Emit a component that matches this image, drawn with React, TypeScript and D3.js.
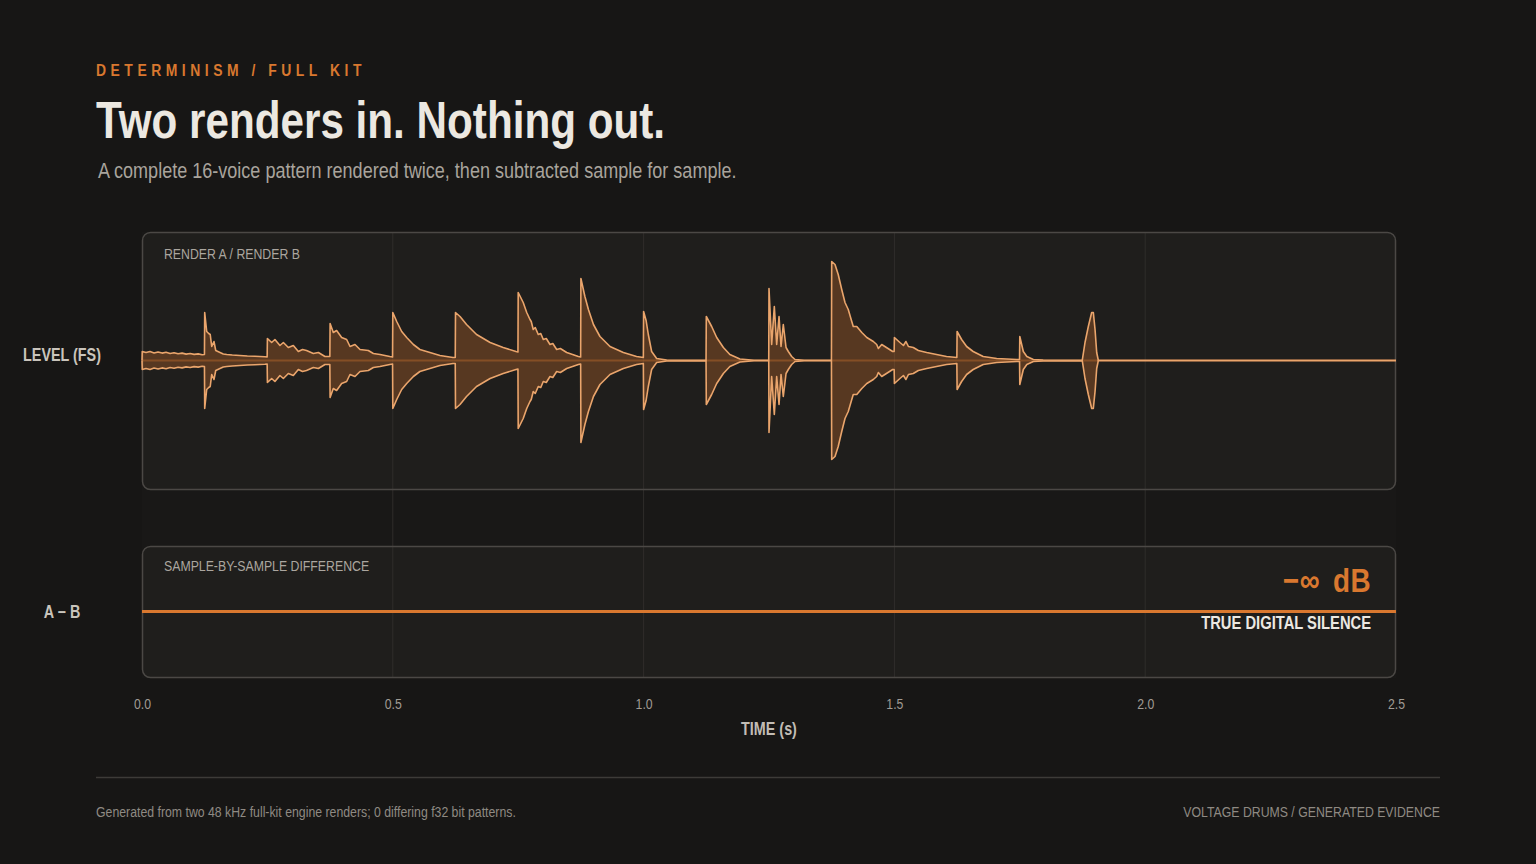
import React, { useEffect, useRef } from 'react';
import * as d3 from 'd3';

const WIDTH = 1536;
const HEIGHT = 864;

// Render A envelope (render B is bit-identical), [time in s, level in FS]
const renderEnvelope: [number, number][] = [
  [0.0, 0], [0.0005, 0.09], [0.008, 0.08], [0.016, 0.09], [0.024, 0.075], [0.032, 0.085],
  [0.04, 0.074], [0.048, 0.082], [0.056, 0.07], [0.064, 0.078], [0.072, 0.067], [0.08, 0.074],
  [0.088, 0.064], [0.096, 0.07], [0.104, 0.061], [0.112, 0.066], [0.12, 0.058], [0.1245, 0.06],
  // voice 2
  [0.125, 0.48], [0.129, 0.29], [0.133, 0.27], [0.136, 0.26], [0.139, 0.14], [0.1435, 0.19],
  [0.147, 0.1], [0.1555, 0.08], [0.162, 0.065], [0.169, 0.06], [0.18, 0.055], [0.195, 0.05],
  [0.21, 0.045], [0.225, 0.042], [0.245, 0.037], [0.2495, 0.035],
  // voice 3
  [0.25, 0.22], [0.2585, 0.18], [0.265, 0.21], [0.275, 0.15], [0.2818, 0.18], [0.2917, 0.13],
  [0.3017, 0.15], [0.3117, 0.09], [0.32, 0.11], [0.328, 0.1], [0.3416, 0.07], [0.3516, 0.08],
  [0.3648, 0.04], [0.3745, 0.04],
  // voice 4
  [0.375, 0.37], [0.3814, 0.28], [0.388, 0.3], [0.398, 0.23], [0.408, 0.21], [0.4147, 0.14],
  [0.4246, 0.16], [0.4346, 0.11], [0.4512, 0.1], [0.4612, 0.07], [0.4745, 0.06], [0.494, 0.04],
  [0.4995, 0.035],
  // voice 5
  [0.5, 0.48], [0.5078, 0.39], [0.5177, 0.29], [0.5277, 0.23], [0.541, 0.16], [0.554, 0.11],
  [0.574, 0.08], [0.594, 0.05], [0.62, 0.03], [0.6245, 0.03],
  // voice 6
  [0.625, 0.48], [0.634, 0.44], [0.647, 0.36], [0.667, 0.26], [0.694, 0.18], [0.72, 0.13],
  [0.7456, 0.09], [0.7495, 0.085],
  // voice 7
  [0.75, 0.68], [0.76, 0.58], [0.767, 0.48], [0.7735, 0.41], [0.776, 0.39], [0.78, 0.31],
  [0.784, 0.33], [0.79, 0.26], [0.795, 0.27], [0.8, 0.21], [0.806, 0.22], [0.8134, 0.16],
  [0.819, 0.17], [0.8267, 0.11], [0.834, 0.12], [0.8467, 0.08], [0.87, 0.04], [0.8745, 0.035],
  // voice 8
  [0.875, 0.82], [0.883, 0.64], [0.89, 0.51], [0.9, 0.36], [0.913, 0.24], [0.933, 0.14],
  [0.9596, 0.08], [0.986, 0.04], [0.9995, 0.03],
  // voice 9
  [1.0, 0.49], [1.005, 0.4], [1.0094, 0.26], [1.016, 0.09], [1.026, 0.02], [1.046, 0.005],
  [1.1245, 0.003],
  // voice 10
  [1.125, 0.44], [1.1357, 0.34], [1.1457, 0.23], [1.159, 0.13], [1.172, 0.06], [1.192, 0.015],
  [1.22, 0.003], [1.2495, 0.002],
  // voice 11 (clap)
  [1.25, 0.72], [1.2553, 0.16], [1.2606, 0.54], [1.2653, 0.16], [1.27, 0.44], [1.274, 0.14],
  [1.2785, 0.36], [1.284, 0.13], [1.2885, 0.09], [1.2952, 0.04], [1.3018, 0.01], [1.32, 0.003],
  [1.3745, 0.002],
  // voice 12
  [1.375, 0.99], [1.3816, 0.96], [1.388, 0.86], [1.395, 0.71], [1.4015, 0.58], [1.408, 0.51],
  [1.415, 0.39], [1.418, 0.34], [1.425, 0.34], [1.435, 0.28], [1.445, 0.23], [1.458, 0.19],
  [1.4647, 0.16], [1.468, 0.12], [1.4747, 0.16], [1.4966, 0.09], [1.4995, 0.09],
  // voice 13
  [1.5, 0.23], [1.511, 0.18], [1.518, 0.15], [1.523, 0.19], [1.528, 0.14], [1.5377, 0.13],
  [1.5477, 0.1], [1.5644, 0.08], [1.584, 0.06], [1.604, 0.04], [1.6245, 0.03],
  // voice 14
  [1.625, 0.29], [1.634, 0.21], [1.644, 0.14], [1.657, 0.09], [1.677, 0.04], [1.704, 0.02],
  [1.744, 0.01], [1.7495, 0.01],
  // voice 15
  [1.75, 0.24], [1.757, 0.09], [1.764, 0.04], [1.777, 0.01], [1.7966, 0.005], [1.8746, 0.003],
  // voice 16 (swell)
  [1.88, 0.18], [1.8866, 0.34], [1.8933, 0.48], [1.8966, 0.48], [1.9, 0.31], [1.9033, 0.08],
  [1.9066, 0], [2.5, 0],
];

// A - B, every sample is zero
const differenceSamples: [number, number][] = [[0, 0], [2.5, 0]];

const timeTicks = [0, 0.5, 1.0, 1.5, 2.0, 2.5];
const gridTicks = [0.5, 1.0, 1.5, 2.0];

const kicker = 'DETERMINISM / FULL KIT';
const title = 'Two renders in. Nothing out.';
const subtitle = 'A complete 16-voice pattern rendered twice, then subtracted sample for sample.';
const footLeft = 'Generated from two 48 kHz full-kit engine renders; 0 differing f32 bit patterns.';
const footRight = 'VOLTAGE DRUMS / GENERATED EVIDENCE';

// Arial-style sans squeezed horizontally to stand in for a narrow face
const SANS = '"Liberation Sans", Arial, sans-serif';
const SQUEEZE = 0.82;
const ORANGE = '#d9782f';

export default function App() {
  const svgRef = useRef<SVGSVGElement>(null);

  useEffect(() => {
    if (!svgRef.current) return;
    const svg = d3.select(svgRef.current);
    svg.selectAll('*').remove();

    svg.append('rect').attr('width', WIDTH).attr('height', HEIGHT).attr('fill', '#171615');

    const plot = { left: 142, right: 1396 };
    const topPanel = { y0: 232, y1: 490 };
    const diffPanel = { y0: 546, y1: 678 };

    const x = d3.scaleLinear().domain([0, 2.5]).range([plot.left, plot.right]);
    const yLevel = d3.scaleLinear().domain([-1.285, 1.285]).range([topPanel.y1 - 1, topPanel.y0]);
    const yDiff = d3.scaleLinear().domain([-1, 1]).range([diffPanel.y1 - 1, diffPanel.y0]);

    // plot backdrop
    svg.append('rect')
      .attr('x', plot.left).attr('y', topPanel.y0)
      .attr('width', plot.right - plot.left).attr('height', diffPanel.y1 - topPanel.y0)
      .attr('fill', '#191817');

    // panels
    [topPanel, diffPanel].forEach(p => {
      svg.append('rect')
        .attr('x', plot.left + 0.5).attr('y', p.y0 + 0.5)
        .attr('width', plot.right - plot.left - 1).attr('height', p.y1 - p.y0 - 1)
        .attr('rx', 8)
        .attr('fill', '#1f1e1c');
    });

    svg.append('g')
      .selectAll('line')
      .data(gridTicks)
      .join('line')
      .attr('x1', d => x(d)).attr('x2', d => x(d))
      .attr('y1', topPanel.y0).attr('y2', diffPanel.y1)
      .attr('stroke', '#2f2d2b')
      .attr('stroke-width', 1);

    [topPanel, diffPanel].forEach(p => {
      svg.append('rect')
        .attr('x', plot.left + 0.5).attr('y', p.y0 + 0.5)
        .attr('width', plot.right - plot.left - 1).attr('height', p.y1 - p.y0 - 1)
        .attr('rx', 8)
        .attr('fill', 'none')
        .attr('stroke', '#4b4845')
        .attr('stroke-width', 1.5);
    });

    // waveform
    const area = d3.area<[number, number]>()
      .x(d => x(d[0]))
      .y0(d => yLevel(-d[1]))
      .y1(d => yLevel(d[1]));
    const upper = d3.line<[number, number]>().x(d => x(d[0])).y(d => yLevel(d[1]));
    const lower = d3.line<[number, number]>().x(d => x(d[0])).y(d => yLevel(-d[1]));

    svg.append('path')
      .datum(renderEnvelope)
      .attr('d', area)
      .attr('fill', ORANGE)
      .attr('fill-opacity', 0.3);

    svg.append('line')
      .attr('x1', x(0)).attr('x2', x(2.5))
      .attr('y1', yLevel(0)).attr('y2', yLevel(0))
      .attr('stroke', ORANGE)
      .attr('stroke-opacity', 0.35)
      .attr('stroke-width', 2);

    [upper, lower].forEach(gen => {
      svg.append('path')
        .datum(renderEnvelope)
        .attr('d', gen)
        .attr('fill', 'none')
        .attr('stroke', '#eaa56c')
        .attr('stroke-width', 1.6)
        .attr('stroke-linejoin', 'round');
    });

    // difference
    svg.append('path')
      .datum(differenceSamples)
      .attr('d', d3.line<[number, number]>().x(d => x(d[0])).y(d => yDiff(d[1])))
      .attr('stroke', ORANGE)
      .attr('stroke-width', 3)
      .attr('fill', 'none');

    const text = (s: string, tx: number, ty: number, size: number, color: string, opts: any = {}) =>
      svg.append('text')
        .attr('transform', `translate(${tx},${ty}) scale(${SQUEEZE},1)`)
        .attr('font-family', SANS)
        .attr('font-size', size)
        .attr('font-weight', opts.weight || 'normal')
        .attr('text-anchor', opts.anchor || 'start')
        .attr('letter-spacing', opts.spacing || 0)
        .attr('word-spacing', opts.wordSpacing || 0)
        .attr('fill', color)
        .text(s);

    // x axis
    const axis = svg.append('g')
      .attr('transform', `translate(0,${diffPanel.y1})`)
      .call(d3.axisBottom(x).tickValues(timeTicks).tickFormat(d3.format('.1f')).tickSize(0).tickPadding(20));
    axis.select('.domain').remove();
    axis.selectAll('text')
      .attr('fill', '#a09b94')
      .attr('font-family', SANS)
      .attr('font-size', 15)
      .attr('transform', `scale(${SQUEEZE},1)`);

    text(kicker, 96, 76, 17, ORANGE, { weight: 'bold', spacing: 5.5 });
    text(title, 96, 138, 51.5, '#ece8e1', { weight: 'bold' });
    text(subtitle, 98, 178, 22, '#a9a49d');

    text('LEVEL (FS)', 62, 361, 17.5, '#c9c4bc', { weight: 'bold', anchor: 'middle' });
    text('A − B', 62, 618, 17.5, '#c9c4bc', { weight: 'bold', anchor: 'middle' });
    text('TIME (s)', 769, 735, 17.5, '#c2bdb5', { weight: 'bold', anchor: 'middle' });

    text('RENDER A / RENDER B', 164, 259, 15, '#aba69f');
    text('SAMPLE-BY-SAMPLE DIFFERENCE', 164, 571, 15, '#aba69f');

    text('−∞ dB', 1371, 592, 34, ORANGE, { weight: 'bold', anchor: 'end', spacing: 0.5, wordSpacing: 6 });
    text('TRUE DIGITAL SILENCE', 1371, 629, 18, '#ece8e1', { weight: 'bold', anchor: 'end' });

    svg.append('line')
      .attr('x1', 96).attr('x2', 1440)
      .attr('y1', 777.5).attr('y2', 777.5)
      .attr('stroke', '#3d3b38')
      .attr('stroke-width', 1.5);

    text(footLeft, 96, 817, 15, '#8f8a83');
    text(footRight, 1440, 817, 15, '#8f8a83', { anchor: 'end' });
  }, []);

  return (
    <svg
      ref={svgRef}
      width={WIDTH}
      height={HEIGHT}
      style={{ position: 'absolute', left: 0, top: 0, display: 'block' }}
    />
  );
}
